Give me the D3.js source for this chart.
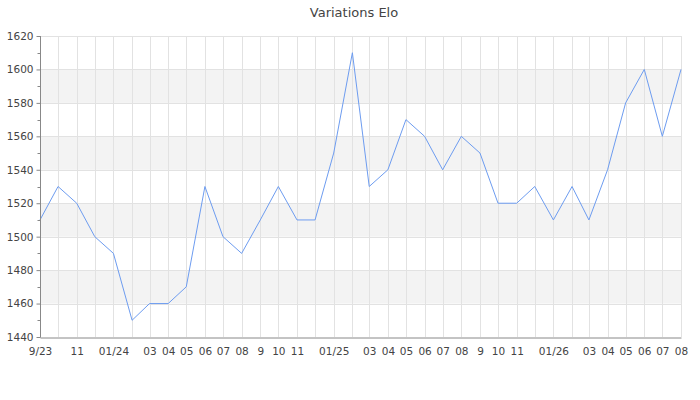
<!DOCTYPE html>
<html>
<head>
<meta charset="utf-8">
<script src="https://cdn.jsdelivr.net/npm/d3@7"></script>
<style>
  html, body { margin: 0; padding: 0; background: #fff; }
  svg { display: block; font-family: "DejaVu Sans", sans-serif; }
</style>
</head>
<body>
<svg id="chart" width="700" height="400"></svg>
<script>
// ---- data ----
const startMonth = [2023, 8]; // Sept 2023 (month index 8)
const eloValues = [
  1510, 1530, 1520, 1500, 1490, 1450, 1460, 1460, 1470, 1530, 1500, 1490,
  1510, 1530, 1510, 1510, 1550, 1610, 1530, 1540, 1570, 1560, 1540, 1560,
  1550, 1520, 1520, 1530, 1510, 1530, 1510, 1540, 1580, 1600, 1560, 1600
];
const xTickLabels = [
  "9/23", "", "11", "", "01/24", "", "03", "04", "05", "06", "07", "08",
  "9", "10", "11", "", "01/25", "", "03", "04", "05", "06", "07", "08",
  "9", "10", "11", "", "01/26", "", "03", "04", "05", "06", "07", "08"
];
const yTicks = [1440, 1460, 1480, 1500, 1520, 1540, 1560, 1580, 1600, 1620];
const yMinorTicks = [1450, 1470, 1490, 1510, 1530, 1550, 1570, 1590, 1610];
const bands = [[1460, 1480], [1500, 1520], [1540, 1560], [1580, 1600]];
const title = "Variations Elo";

(function () {
const dates = eloValues.map((v, i) => new Date(startMonth[0], startMonth[1] + i, 1));
const data = eloValues.map((v, i) => ({ date: dates[i], value: v }));

// ---- layout ----
const svg = d3.select("#chart");
const mLeft = 40, mRight = 681, mTop = 36, mBottom = 337;

const x = d3.scaleTime().domain(d3.extent(dates)).range([mLeft, mRight]);
const y = d3.scaleLinear().domain([1440, 1620]).range([mBottom, mTop]);

// bands
svg.append("g").selectAll("rect").data(bands).join("rect")
  .attr("x", mLeft).attr("width", mRight - mLeft)
  .attr("y", d => y(d[1])).attr("height", d => y(d[0]) - y(d[1]))
  .attr("fill", "#f3f3f3");

// horizontal grid
svg.append("g").selectAll("line").data(yTicks.slice(1)).join("line")
  .attr("x1", mLeft).attr("x2", mRight)
  .attr("y1", d => Math.round(y(d)) + 0.5).attr("y2", d => Math.round(y(d)) + 0.5)
  .attr("stroke", "#e2e2e2").attr("stroke-width", 1);

// vertical grid
svg.append("g").selectAll("line").data(dates.slice(1)).join("line")
  .attr("x1", d => Math.round(x(d)) + 0.5).attr("x2", d => Math.round(x(d)) + 0.5)
  .attr("y1", mTop).attr("y2", mBottom)
  .attr("stroke", "#e2e2e2").attr("stroke-width", 1);

// line
const line = d3.line().x(d => x(d.date)).y(d => y(d.value));
svg.append("path").datum(data)
  .attr("d", line)
  .attr("fill", "none")
  .attr("stroke", "#6d9cf0")
  .attr("stroke-width", 1);

// y axis
const yAxis = d3.axisLeft(y).tickValues(yTicks).tickSize(4).tickPadding(3).tickFormat(d3.format("d"));
const gy = svg.append("g").attr("transform", `translate(${mLeft + 0.5},0)`).call(yAxis);
gy.select(".domain").attr("stroke", "#888").attr("d", `M0,${mTop}V${mBottom + 0.5}`);
gy.selectAll(".tick line").attr("stroke", "#888");
gy.selectAll(".tick text").attr("fill", "#444").style("font-size", "10.5px");
gy.style("font-family", "DejaVu Sans, sans-serif");
svg.append("g").selectAll("line").data(yMinorTicks).join("line")
  .attr("x1", mLeft - 2.5).attr("x2", mLeft)
  .attr("y1", d => Math.round(y(d)) + 0.5).attr("y2", d => Math.round(y(d)) + 0.5)
  .attr("stroke", "#888");

// x axis
const xAxis = d3.axisBottom(x).tickValues(dates).tickSize(0).tickPadding(10)
  .tickFormat((d, i) => xTickLabels[i]);
const gx = svg.append("g").attr("transform", `translate(0,${mBottom + 0.5})`).call(xAxis);
gx.select(".domain").attr("stroke", "#888");
gx.selectAll(".tick text").attr("fill", "#444").style("font-size", "10.5px");
gx.style("font-family", "DejaVu Sans, sans-serif");

// title
svg.append("text").attr("x", 354).attr("y", 17)
  .attr("text-anchor", "middle")
  .attr("fill", "#444")
  .style("font-size", "13px")
  .text(title);
})();
</script>
</body>
</html>
